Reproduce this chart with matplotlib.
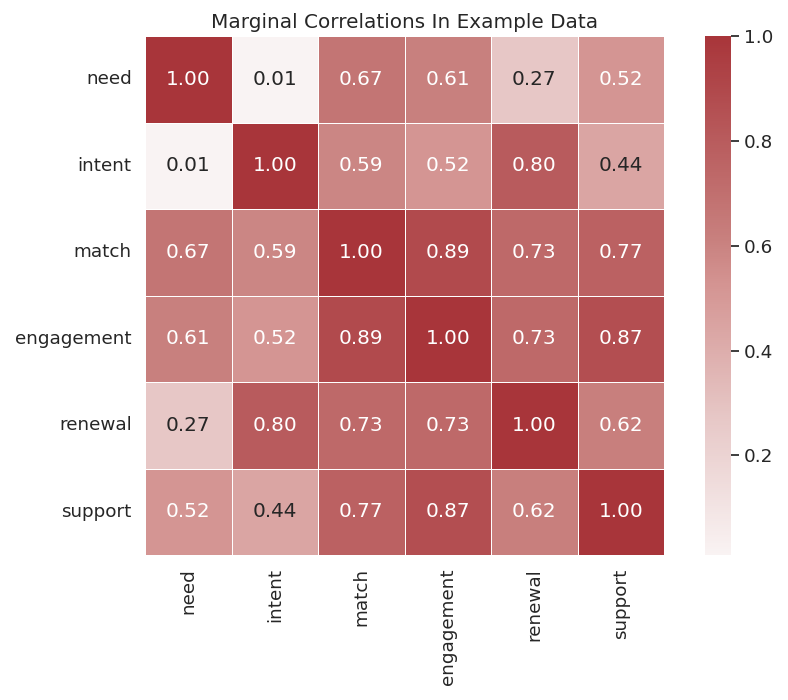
import numpy as np
import pandas as pd
import matplotlib
matplotlib.use("Agg")
import matplotlib.pyplot as plt
from matplotlib.colors import LinearSegmentedColormap
import seaborn as sns

labels = ["need", "intent", "match", "engagement", "renewal", "support"]
need = [1.00, 0.01, 0.67, 0.61, 0.27, 0.52]
intent = [0.01, 1.00, 0.59, 0.52, 0.80, 0.44]
match = [0.67, 0.59, 1.00, 0.89, 0.73, 0.77]
engagement = [0.61, 0.52, 0.89, 1.00, 0.73, 0.87]
renewal = [0.27, 0.80, 0.73, 0.73, 1.00, 0.62]
support = [0.52, 0.44, 0.77, 0.87, 0.62, 1.00]

corr = pd.DataFrame([need, intent, match, engagement, renewal, support],
                    index=labels, columns=labels)

sns.set_theme(style="white", font_scale=1.2)

# white-to-brick-red colormap
cmap = LinearSegmentedColormap.from_list("reds", [
    (0.00, "#F9F3F3"),
    (0.27, "#E6C6C5"),
    (0.52, "#D49492"),
    (0.61, "#C8807E"),
    (1.00, "#A8353A"),
])

fig = plt.figure(figsize=(7.88, 7.0), dpi=100)
ax = fig.add_axes([145 / 788, 145 / 700, 519 / 788, 519 / 700])
cax = fig.add_axes([705 / 788, 145 / 700, 26 / 788, 519 / 700])
sns.heatmap(corr, cmap=cmap, vmax=1, annot=True, fmt=".2f",
            square=True, linewidths=0.5, linecolor="white", ax=ax, cbar_ax=cax)
ax.set_title("Marginal Correlations In Example Data")

plt.savefig("out.png")
